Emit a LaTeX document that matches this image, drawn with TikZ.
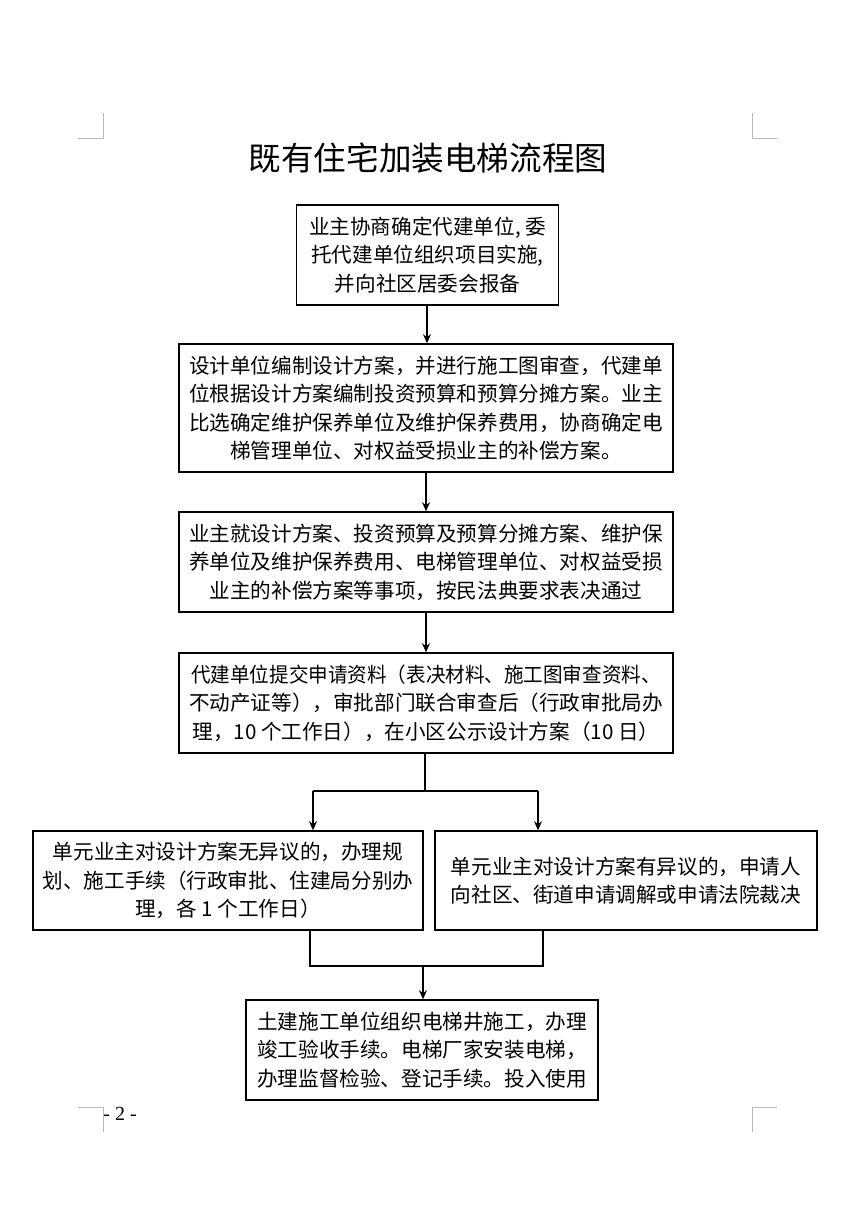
\documentclass[tikz,border=0pt]{standalone}
\usepackage{graphicx}
\usepackage{fontspec}
\setmainfont{Noto Sans CJK SC}
\newfontfamily\pgnumfont{Liberation Serif}
\usetikzlibrary{arrows.meta}
\begin{document}
\begin{tikzpicture}[x=1pt,y=-1pt,
  box/.style={draw, line width=1.6pt, align=center, inner sep=0pt,
    font=\fontsize{20.6pt}{28.5pt}\selectfont},
  conn/.style={line width=1.5pt},
  arr/.style={conn, -{Stealth[length=9pt,width=8pt,inset=3pt]}},
  crop/.style={draw=black!28, line width=0.9pt}]
\useasboundingbox (0,0) rectangle (849,1215);
% crop marks
\draw[crop] (78,138) -- (103,138) -- (103,113);
\draw[crop] (777,138) -- (752,138) -- (752,113);
\draw[crop] (78,1107) -- (103,1107) -- (103,1132);
\draw[crop] (777,1107) -- (752,1107) -- (752,1132);
% title
\node[font=\fontsize{32.6pt}{38pt}\selectfont] (title) at (428,158) {既有住宅加装电梯流程图};
% boxes
\node[box, minimum width=262pt, minimum height=100pt] (b1) at (427.5,255)
  {业主协商确定代建单位, 委\\托代建单位组织项目实施,\\并向社区居委会报备};
\node[box, minimum width=494pt, minimum height=128pt] (b2) at (426,408)
  {设计单位编制设计方案，并进行施工图审查，代建单\\位根据设计方案编制投资预算和预算分摊方案。业主\\比选确定维护保养单位及维护保养费用，协商确定电\\梯管理单位、对权益受损业主的补偿方案。};
\node[box, minimum width=494pt, minimum height=100pt] (b3) at (426,562)
  {业主就设计方案、投资预算及预算分摊方案、维护保\\养单位及维护保养费用、电梯管理单位、对权益受损\\业主的补偿方案等事项，按民法典要求表决通过};
\node[box, minimum width=494pt, minimum height=100pt] (b4) at (426,703)
  {\scalebox{0.95}[1]{代建单位提交申请资料（表决材料、施工图审查资料、}\\不动产证等），审批部门联合审查后（行政审批局办\\理，10 个工作日），在小区公示设计方案（10 日）};
\node[box, minimum width=390pt, minimum height=99pt] (b5) at (228,880.5)
  {单元业主对设计方案无异议的，办理规\\划、施工手续（行政审批、住建局分别办\\理，各 1 个工作日）};
\node[box, minimum width=382pt, minimum height=99pt] (b6) at (626,880.5)
  {单元业主对设计方案有异议的，申请人\\向社区、街道申请调解或申请法院裁决};
\node[box, minimum width=352pt, minimum height=100pt] (b7) at (422,1050)
  {土建施工单位组织电梯井施工，办理\\竣工验收手续。电梯厂家安装电梯，\\办理监督检验、登记手续。投入使用};
% page number
\node[font=\pgnumfont\fontsize{20pt}{22pt}\selectfont, inner sep=0pt] (pg) at (120,1114) {- 2 -};
% connectors
\draw[arr] (b1.south -| 427,0) -- (b2.north -| 427,0);
\draw[arr] (b2.south) -- (b3.north);
\draw[arr] (b3.south) -- (b4.north);
\coordinate (j1) at (425,791);
\coordinate (jl) at (313,791);
\coordinate (jr) at (538,791);
\draw[conn] (b4.south -| j1) -- (j1);
\draw[conn] (jl) -- (jr);
\draw[arr] (jl) -- (jl |- b5.north);
\draw[arr] (jr) -- (jr |- b6.north);
\coordinate (ml) at (310,966);
\coordinate (mr) at (543,966);
\coordinate (mc) at (423,966);
\draw[conn] (ml |- b5.south) -- (ml) -- (mr) -- (mr |- b6.south);
\draw[arr] (mc) -- (mc |- b7.north);
\end{tikzpicture}
\end{document}
